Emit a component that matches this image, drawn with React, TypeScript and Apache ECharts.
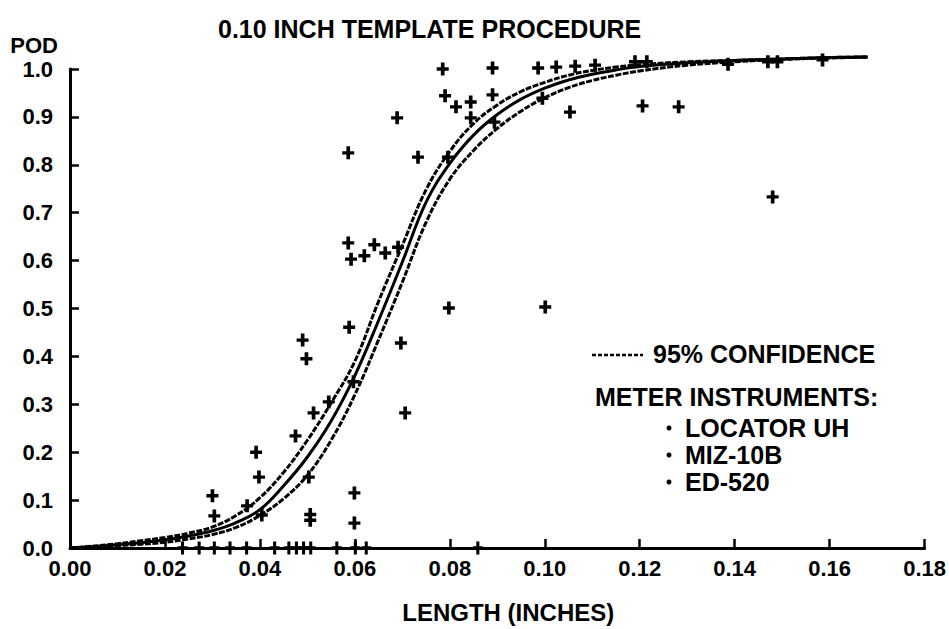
import React, { useEffect, useRef } from "react";
import * as echarts from "echarts";

const TITLE = "0.10 INCH TEMPLATE PROCEDURE";
const X_NAME = "LENGTH (INCHES)";
const Y_NAME = "POD";

// Fitted POD curve and its 95% confidence bounds
const CURVE_X = [0, 0.005, 0.01, 0.015, 0.02, 0.025, 0.03, 0.035, 0.04, 0.045, 0.05, 0.055, 0.06, 0.065, 0.07, 0.075, 0.08, 0.085, 0.09, 0.095, 0.1, 0.105, 0.11, 0.115, 0.12, 0.13, 0.14, 0.15, 0.16, 0.168];
const CURVE_MID = [0, 0.003, 0.007, 0.011, 0.017, 0.025, 0.036, 0.053, 0.08, 0.13, 0.19, 0.265, 0.36, 0.475, 0.597, 0.722, 0.803, 0.862, 0.905, 0.937, 0.96, 0.977, 0.989, 0.998, 1.005, 1.013, 1.018, 1.021, 1.024, 1.025];
const CURVE_UPPER = [0, 0.004, 0.009, 0.015, 0.022, 0.031, 0.044, 0.068, 0.105, 0.158, 0.225, 0.303, 0.39, 0.515, 0.632, 0.748, 0.828, 0.886, 0.925, 0.953, 0.972, 0.987, 0.997, 1.004, 1.009, 1.015, 1.018, 1.021, 1.024, 1.025];
const CURVE_LOWER = [0, 0.002, 0.005, 0.008, 0.012, 0.019, 0.028, 0.043, 0.068, 0.103, 0.152, 0.225, 0.32, 0.435, 0.555, 0.68, 0.77, 0.83, 0.876, 0.912, 0.94, 0.961, 0.976, 0.987, 0.996, 1.008, 1.015, 1.02, 1.023, 1.025];

// Observed hit rates (crosses)
const POINT_X = [0.0785, 0.079, 0.0813, 0.0844, 0.0844, 0.0689, 0.0586, 0.0733, 0.0796, 0.0586, 0.0592, 0.062, 0.0641, 0.0664, 0.0691, 0.0798, 0.089, 0.0986, 0.1024, 0.1064, 0.089, 0.1053, 0.1206, 0.1282, 0.148, 0.1001, 0.0995, 0.1106, 0.119, 0.1215, 0.1386, 0.147, 0.149, 0.1585, 0.0894, 0.0588, 0.049, 0.0498, 0.0697, 0.0545, 0.0513, 0.0706, 0.0597, 0.0475, 0.0392, 0.0398, 0.03, 0.0304, 0.0373, 0.0404, 0.0503, 0.0506, 0.0506, 0.0599, 0.0599];
const POINT_Y = [1.0, 0.944, 0.921, 0.931, 0.898, 0.898, 0.825, 0.816, 0.816, 0.637, 0.603, 0.61, 0.633, 0.616, 0.628, 0.501, 1.002, 1.002, 1.004, 1.006, 0.946, 0.91, 0.923, 0.921, 0.733, 0.503, 0.939, 1.008, 1.015, 1.015, 1.01, 1.015, 1.015, 1.019, 0.889, 0.461, 0.434, 0.395, 0.428, 0.305, 0.282, 0.282, 0.347, 0.234, 0.2, 0.148, 0.109, 0.067, 0.088, 0.069, 0.148, 0.07, 0.058, 0.115, 0.052];
// Misses (POD = 0)
const ZERO_X = [0.0237, 0.0272, 0.0304, 0.0337, 0.0372, 0.0431, 0.0461, 0.0477, 0.0492, 0.0507, 0.0562, 0.0601, 0.0624, 0.0859];

const LEGEND_CONF = "95% CONFIDENCE";
const LEGEND_HEAD = "METER INSTRUMENTS:";
const INSTRUMENTS = ["LOCATOR UH", "MIZ-10B", "ED-520"];

const FONT = "'Liberation Sans', Arial, Helvetica, sans-serif";
const PLUS = "path://M4,0H7.5V4.8H11.5V8.2H7.5V13H4V8.2H0V4.8H4Z";

export default function App() {
  const ref = useRef<HTMLDivElement>(null);
  useEffect(() => {
    const chart = echarts.init(ref.current!, null, { renderer: "svg" });
    const pts = POINT_X.map((x, i) => [x, POINT_Y[i]]);
    const zeros = ZERO_X.map((x) => [x, 0]);
    const line = (ys: number[]) => CURVE_X.map((x, i) => [x, ys[i]]);
    const txt = { fontFamily: FONT, fontWeight: "bold" as const, color: "#000" };
    const legendGraphics: any[] = [
      {
        type: "line",
        shape: { x1: 592, y1: 355, x2: 643, y2: 355 },
        style: { stroke: "#000", lineWidth: 2.5, lineDash: [4, 2] },
      },
      {
        type: "text",
        x: 653,
        y: 354,
        style: { text: LEGEND_CONF, font: `bold 25px ${FONT}`, fill: "#000", textVerticalAlign: "middle" },
      },
      {
        type: "text",
        x: 595,
        y: 397,
        style: { text: LEGEND_HEAD, font: `bold 25px ${FONT}`, fill: "#000", textVerticalAlign: "middle" },
      },
    ];
    INSTRUMENTS.forEach((name, i) => {
      const y = 428 + i * 27;
      legendGraphics.push({ type: "circle", shape: { cx: 669, cy: y, r: 2.5 }, style: { fill: "#000" } });
      legendGraphics.push({
        type: "text",
        x: 685,
        y,
        style: { text: name, font: `bold 25px ${FONT}`, fill: "#000", textVerticalAlign: "middle" },
      });
    });

    const lineBase = {
      type: "line",
      smooth: 0.4,
      showSymbol: false,
      clip: false,
      z: 2,
    };

    chart.setOption({
      animation: false,
      backgroundColor: "#fff",
      title: {
        text: TITLE,
        left: 213,
        top: 11,
        textStyle: { ...txt, fontSize: 25 },
      },
      grid: { left: 70, right: 19, top: 69, bottom: 81 },
      xAxis: {
        type: "value",
        min: 0,
        max: 0.18,
        interval: 0.02,
        name: X_NAME,
        nameLocation: "middle",
        nameGap: 52,
        nameTextStyle: { ...txt, fontSize: 24, padding: [0, 0, 0, 22] },
        axisLine: { show: true, onZero: false, lineStyle: { color: "#000", width: 3 } },
        axisTick: { show: true, inside: true, length: 9, lineStyle: { color: "#000", width: 2.5 } },
        axisLabel: { ...txt, fontSize: 22, margin: 9, formatter: (v: number) => v.toFixed(2) },
        splitLine: { show: false },
      },
      yAxis: {
        type: "value",
        min: 0,
        max: 1,
        interval: 0.1,
        name: Y_NAME,
        nameLocation: "end",
        nameGap: 13,
        nameTextStyle: { ...txt, fontSize: 22, align: "right", padding: [0, 12, 0, 0] },
        axisLine: { show: true, onZero: false, lineStyle: { color: "#000", width: 3 } },
        axisTick: { show: true, inside: true, length: 9, lineStyle: { color: "#000", width: 2.5 } },
        axisLabel: { ...txt, fontSize: 22, margin: 17, padding: [7, 0, 0, 0], formatter: (v: number) => v.toFixed(1) },
        splitLine: { show: false },
      },
      graphic: legendGraphics,
      series: [
        {
          ...lineBase,
          name: "95% CONFIDENCE (upper)",
          data: line(CURVE_UPPER),
          lineStyle: { color: "#000", width: 3, type: [6, 1.5] },
        },
        {
          ...lineBase,
          name: "POD",
          data: line(CURVE_MID),
          lineStyle: { color: "#000", width: 3 },
        },
        {
          ...lineBase,
          name: "95% CONFIDENCE (lower)",
          data: line(CURVE_LOWER),
          lineStyle: { color: "#000", width: 3, type: [6, 1.5] },
        },
        {
          type: "scatter",
          name: "Hits",
          data: pts,
          symbol: PLUS,
          symbolSize: [12, 13],
          symbolKeepAspect: false,
          clip: false,
          itemStyle: { color: "#000", opacity: 1 },
          z: 3,
        },
        {
          type: "scatter",
          name: "Misses",
          data: zeros,
          symbol: PLUS,
          symbolSize: [10, 13],
          symbolKeepAspect: false,
          clip: false,
          itemStyle: { color: "#000", opacity: 1 },
          z: 3,
        },
      ],
    });
    return () => chart.dispose();
  }, []);
  return (
    <div
      ref={ref}
      style={{ position: "fixed", left: 0, top: 0, width: 949, height: 629, background: "#fff" }}
    />
  );
}
